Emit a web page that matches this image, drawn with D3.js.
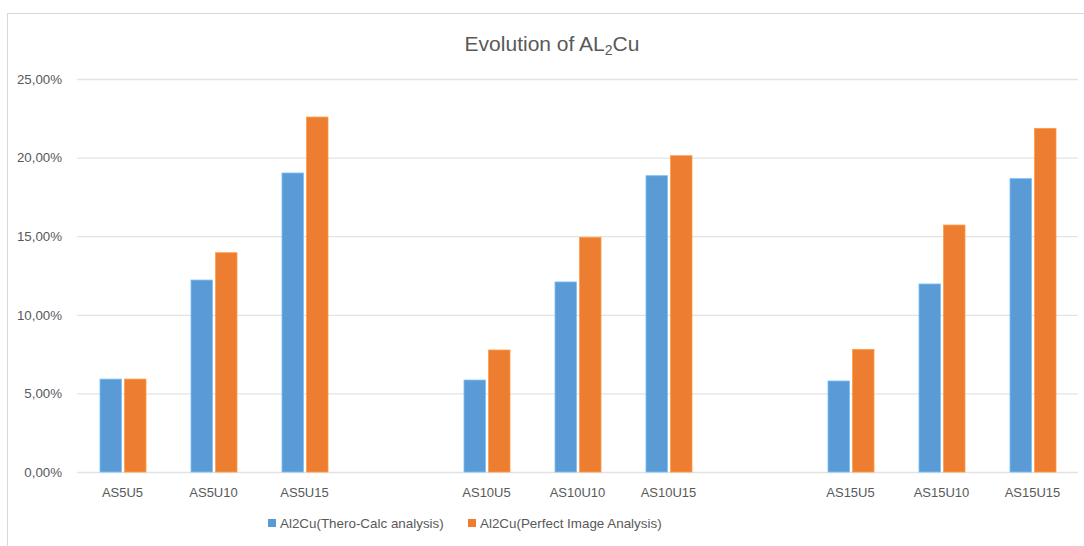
<!DOCTYPE html>
<html>
<head>
<meta charset="utf-8">
<script src="https://cdn.jsdelivr.net/npm/d3@7"></script>
<style>
  html, body { margin: 0; padding: 0; background: #ffffff; }
  svg { display: block; font-family: "Liberation Sans", Arial, sans-serif; }
</style>
</head>
<body>
<svg id="chart" width="1084" height="546"></svg>
<script>
// Sample names, with blank slots separating the AS5 / AS10 / AS15 groups
const categories = ["AS5U5", "AS5U10", "AS5U15", "gap1", "AS10U5", "AS10U10", "AS10U15", "gap2", "AS15U5", "AS15U10", "AS15U15"];
const samples = ["AS5U5", "AS5U10", "AS5U15", "AS10U5", "AS10U10", "AS10U15", "AS15U5", "AS15U10", "AS15U15"];
const seriesNames = ["Al2Cu(Thero-Calc analysis)", "Al2Cu(Perfect Image Analysis)"];
const theroCalc = [0.0591, 0.1221, 0.1902, 0.0585, 0.1209, 0.1885, 0.0579, 0.1196, 0.1866];
const imageAnalysis = [0.0591, 0.1395, 0.2258, 0.0776, 0.1493, 0.2012, 0.0780, 0.1571, 0.2186];
const yTicks = [0, 0.05, 0.10, 0.15, 0.20, 0.25];
const colors = ["#5B9BD5", "#ED7D31"];

const svg = d3.select("#chart");
const W = 1084, H = 546;
const margin = { left: 77, right: 6, top: 79, bottom: 74 };

// Outer chart frame
svg.append("rect")
  .attr("x", 7.5).attr("y", 13.5)
  .attr("width", W + 20).attr("height", H + 20)
  .attr("fill", "none").attr("stroke", "#d9d9d9").attr("stroke-width", 1);

const x = d3.scaleBand().domain(categories).range([margin.left, W - margin.right]);
const y = d3.scaleLinear().domain([0, 0.25]).range([H - margin.bottom, margin.top]);
const fmt = v => d3.format(".2f")(v * 100).replace(".", ",") + "%";

// Gridlines and y labels
const yAxis = d3.axisLeft(y).tickValues(yTicks).tickFormat(fmt).tickSize(-(W - margin.right - margin.left)).tickPadding(15);
const gy = svg.append("g").attr("transform", `translate(${margin.left},0)`).call(yAxis);
gy.select(".domain").remove();
gy.selectAll(".tick line").attr("stroke", "#e3e3e3").attr("stroke-width", 1.3);
gy.selectAll(".tick text").attr("fill", "#595959").attr("font-size", 13.3);

// X axis labels (blank for the spacer slots)
const xAxis = d3.axisBottom(x).tickFormat(d => samples.includes(d) ? d : "").tickSize(0).tickPadding(16);
const gx = svg.append("g").attr("transform", `translate(0,${y(0)})`).call(xAxis);
gx.select(".domain").remove();
gx.selectAll(".tick text").attr("fill", "#595959").attr("font-size", 13);

// Bars
const inner = d3.scaleBand().domain([0, 1]).range([0, 46]).paddingInner(0.13);
const rows = samples.map((s, i) => ({ s, v: [theroCalc[i], imageAnalysis[i]] }));
const groups = svg.append("g").selectAll("g").data(rows).join("g")
  .attr("transform", d => `translate(${x(d.s) + x.bandwidth() / 2 - 23 + 0.5},0)`);
groups.selectAll("rect").data(d => d.v.map((v, k) => ({ v, k }))).join("rect")
  .attr("x", d => inner(d.k))
  .attr("width", inner.bandwidth())
  .attr("y", d => y(d.v))
  .attr("height", d => y(0) - y(d.v))
  .attr("fill", d => colors[d.k])
  .attr("stroke", d => d3.color(colors[d.k]).brighter(0.6))
  .attr("stroke-width", 0.8);

// Title
const title = svg.append("text")
  .attr("x", 552).attr("y", 51)
  .attr("text-anchor", "middle")
  .attr("fill", "#595959").attr("font-size", 21);
title.append("tspan").text("Evolution of AL");
title.append("tspan").attr("font-size", 14).attr("dy", 4).text("2");
title.append("tspan").attr("dy", -4).text("Cu");

// Legend
const legendX = [268, 468];
const lg = svg.append("g").selectAll("g").data(seriesNames).join("g")
  .attr("transform", (d, i) => `translate(${legendX[i]},519)`);
lg.append("rect").attr("width", 8).attr("height", 8).attr("fill", (d, i) => colors[i]);
lg.append("text").attr("x", 12).attr("y", 8.5)
  .attr("fill", "#595959").attr("font-size", 13.4).text(d => d);
</script>
</body>
</html>
